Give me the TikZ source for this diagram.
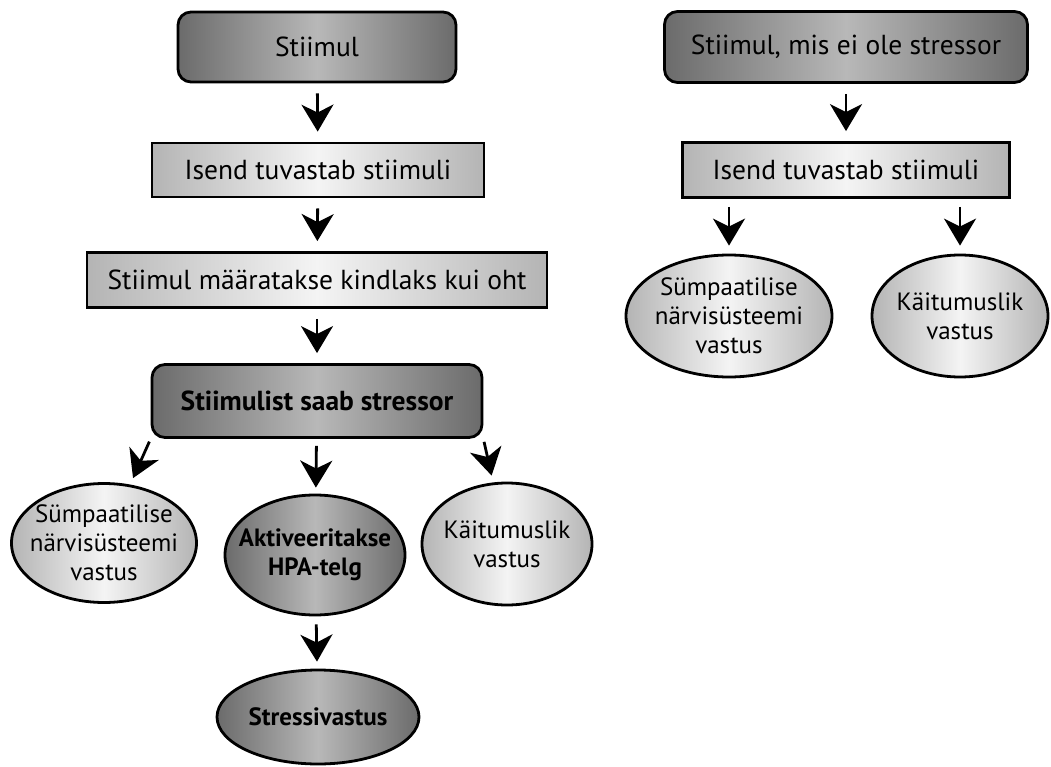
\documentclass[tikz,border=0pt]{standalone}
\usepackage{fontspec}
\setmainfont{PT Sans}
\usetikzlibrary{arrows.meta,shapes.geometric,positioning}

\definecolor{darkedge}{HTML}{6B6B6B}
\definecolor{darkmid}{HTML}{B8B8B8}
\definecolor{lightedge}{HTML}{B4B4B4}
\definecolor{lightmid}{HTML}{F4F4F4}

\begin{document}
\begin{tikzpicture}
	[x=1pt, y=-1pt, font=\fontsize{27.5}{30}\selectfont, line width=2.8pt, inner sep=0pt,
	darkbox/.style	= {rectangle, rounded corners=13pt, draw, left color=darkedge, right color=darkedge, middle color=darkmid},
	lightbox/.style	= {rectangle, draw, left color=lightedge, right color=lightedge, middle color=lightmid},
	oval/.style	= {ellipse, draw, align=center, inner xsep=-40pt, inner ysep=-25pt, font=\fontsize{25}{29}\selectfont},
	darkoval/.style	= {oval, left color=darkedge, right color=darkedge, middle color=darkmid},
	lightoval/.style	= {oval, left color=lightedge, right color=lightedge, middle color=lightmid},
	paths/.style	= {-{Stealth[length=27pt, width=32pt, inset=8pt]}, shorten >= 10pt, shorten <= 10pt},
	fan/.style	= {-{Stealth[length=27pt, width=32pt, inset=8pt]}, shorten >= 7pt, shorten <= 3pt}]
	
	\useasboundingbox (0, 0) rectangle (1051, 767);
	
	% left column
	\node at (317, 47)	[darkbox, minimum width=278pt, minimum height=70pt]	(st1)	{Stiimul};
	\node at (318, 170)	[lightbox, minimum width=332pt, minimum height=54pt]	(is1)	{Isend tuvastab stiimuli};
	\node at (317, 280)	[lightbox, minimum width=460pt, minimum height=55pt]	(oht)	{Stiimul määratakse kindlaks kui oht};
	\node at (317, 401)	[darkbox, minimum width=330pt, minimum height=73pt]	(ss)	{\bfseries Stiimulist saab stressor};
	
	\node at (104, 543)	[lightoval, minimum width=185pt, minimum height=119pt]	(sym)	{Sümpaatilise\\närvisüsteemi\\vastus};
	\node at (315, 555)	[darkoval, minimum width=180pt, minimum height=120pt]	(hpa)	{\bfseries Aktiveeritakse\\\bfseries HPA-telg};
	\node at (507, 544)	[lightoval, minimum width=170pt, minimum height=122pt]	(kai)	{Käitumuslik\\vastus};
	\node at (318, 717)	[darkoval, minimum width=202pt, minimum height=94pt]	(sv)	{\bfseries Stressivastus};
	
	% right column
	\node at (846, 47)	[darkbox, minimum width=363pt, minimum height=71pt]	(st2)	{Stiimul, mis ei ole stressor};
	\node at (846, 170)	[lightbox, minimum width=327pt, minimum height=55pt]	(is2)	{Isend tuvastab stiimuli};
	
	\node at (729, 316)	[lightoval, minimum width=206pt, minimum height=122pt]	(sym2)	{Sümpaatilise\\närvisüsteemi\\vastus};
	\node at (960, 316)	[lightoval, minimum width=176pt, minimum height=122pt]	(kai2)	{Käitumuslik\\vastus};
	
	\draw [paths] (st1) -- (is1);
	\draw [paths] (is1) -- (oht);
	\draw [paths] (oht) -- (ss);
	
	\draw [fan] (ss.south west) -- (sym);
	\draw [paths, shorten <= 7pt, shorten >= 6pt] (ss) -- (hpa);
	\draw [fan] (ss.south east) -- (kai);
	\draw [paths, shorten <= 8pt, shorten >= 7pt] (hpa) -- (sv);
	
	\draw [paths] (st2) -- (is2);
	\draw [paths, shorten <= 8pt, shorten >= 8pt] (is2.south -| sym2.north) -- (sym2);
	\draw [paths, shorten <= 8pt, shorten >= 8pt] (is2.south -| kai2.north) -- (kai2);
	
\end{tikzpicture}
\end{document}
